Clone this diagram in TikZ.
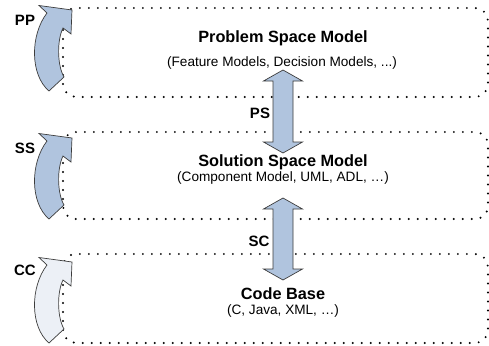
\documentclass[tikz,border=0pt]{standalone}
\usepackage{fontspec}
\setmainfont{Liberation Sans}
\definecolor{arrowblue}{RGB}{176,196,222}
\definecolor{arrowlight}{RGB}{236,240,246}
\definecolor{edgegray}{RGB}{60,60,60}
\tikzset{
  modelbox/.style={draw=black, line width=2.2pt, line cap=round, dash pattern=on 0pt off 9pt, rounded corners=13pt},
  arrowshape/.style={draw=edgegray, line width=0.7pt, line join=miter},
  title/.style={anchor=base, font=\fontsize{16.3}{18}\selectfont\bfseries, inner sep=0pt},
  subtitle/.style={anchor=base, font=\fontsize{13.6}{16}\selectfont, inner sep=0pt},
  lab/.style={anchor=base, font=\fontsize{15}{17}\selectfont\bfseries, inner sep=0pt},
  curvarrow/.pic={
    \path[pic actions] (39,5.5) -- (72,10) -- (71,34) -- (63,28)
      .. controls (57,40) and (57,65) .. (64,77) -- (49,91)
      .. controls (30,75) and (30,35) .. (47,13) -- cycle;
  },
  vdarrow/.pic={
    \path[pic actions] (0,-#1) -- (19.5,-#1+11) -- (10,-#1+11) -- (10,#1-11) -- (19.5,#1-11)
      -- (0,#1) -- (-19.5,#1-11) -- (-10,#1-11) -- (-10,-#1+11) -- (-19.5,-#1+11) -- cycle;
  }
}
\begin{document}
\begin{tikzpicture}[x=1pt,y=-1pt]
\useasboundingbox (0,0) rectangle (489,345);
% model boxes
\draw[modelbox] (63,8) rectangle (488,97);
\draw[modelbox] (63,132) rectangle (488,219);
\draw[modelbox] (63,254) rectangle (488,343);
% texts
\node[title] (psm) at (283,43) {Problem Space Model};
\node[subtitle] (psmsub) at (282,66.5) {(Feature Models, Decision Models, ...)};
\node[title] (ssm) at (283,166.7) {Solution Space Model};
\node[subtitle] (ssmsub) at (283,181.5) {(Component Model, UML, ADL, …)};
\node[title] (cb) at (283,299.3) {Code Base};
\node[subtitle] (cbsub) at (283,314.5) {(C, Java, XML, …)};
% vertical double arrows
\pic[arrowshape, fill=arrowblue] (psarrow) at (283,111.5) {vdarrow=41.5};
\pic[arrowshape, fill=arrowblue] (scarrow) at (283,239) {vdarrow=41};
\node[lab] (ps) at (260,118.3) {PS};
\node[lab] (sc) at (259,246.5) {SC};
% curved arrows
\pic[arrowshape, fill=arrowblue] (pparrow) at (0,0) {curvarrow};
\pic[arrowshape, fill=arrowblue] (ssarrow) at (0,128) {curvarrow};
\pic[arrowshape, fill=arrowlight] (ccarrow) at (0,252) {curvarrow};
\node[lab] (pp) at (25,25.3) {PP};
\node[lab] (ss) at (25,153) {SS};
\node[lab] (cc) at (25,275) {CC};
\end{tikzpicture}
\end{document}
